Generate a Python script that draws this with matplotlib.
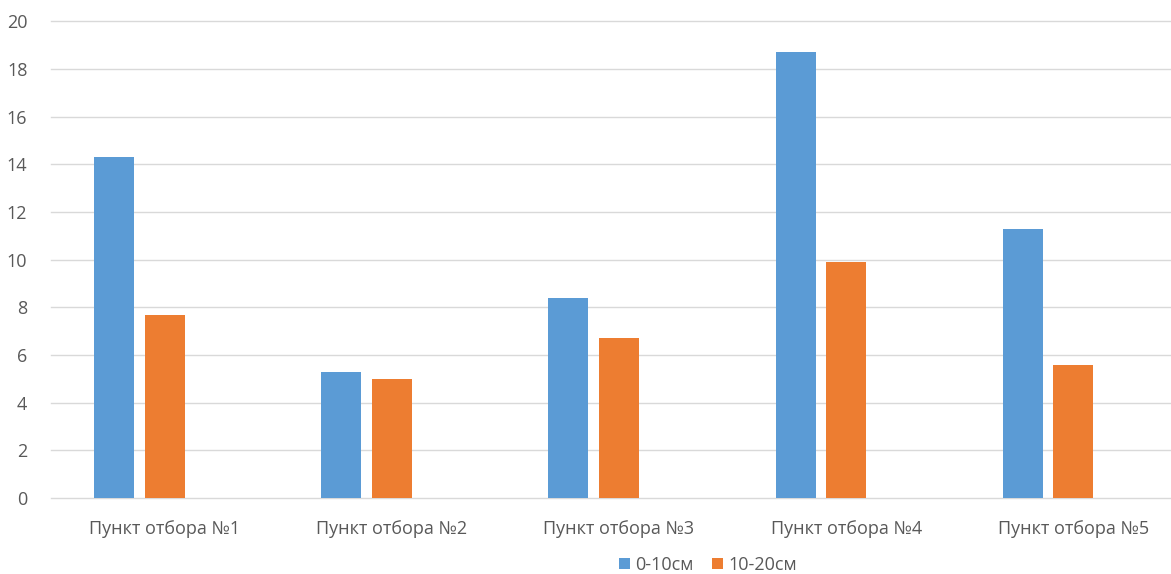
import numpy as np
import matplotlib.pyplot as plt

plt.rcParams['font.family'] = ['Open Sans', 'DejaVu Sans']

points = ['Пункт отбора №1', 'Пункт отбора №2', 'Пункт отбора №3',
          'Пункт отбора №4', 'Пункт отбора №5']
depth_0_10 = [14.3, 5.3, 8.4, 18.7, 11.3]
depth_10_20 = [7.7, 5.0, 6.7, 9.9, 5.6]
series_names = ['0-10см', '10-20см']

blue = '#5B9BD5'
orange = '#ED7D31'
text_col = '#595959'

fig = plt.figure(figsize=(11.71, 5.74), dpi=100)
ax = fig.add_axes([51 / 1171, 1 - 498 / 574, 1136 / 1171, 476.5 / 574])

x = np.arange(len(points))
w = 0.176
step = 0.223
ax.bar(x - step, depth_0_10, width=w, color=blue, label=series_names[0], zorder=3)
ax.bar(x, depth_10_20, width=w, color=orange, label=series_names[1], zorder=3)

ax.set_xlim(-0.5, 4.5)
ax.set_ylim(0, 20)
ax.set_yticks(np.arange(0, 21, 2))
ax.set_xticks(x)
ax.set_xticklabels(points)
ax.yaxis.grid(True, color='#D9D9D9', linewidth=1)
for gl in ax.get_ygridlines():
    gl.set_clip_on(False)
ax.set_axisbelow(True)
for s in ax.spines.values():
    s.set_visible(False)
ax.tick_params(axis='both', length=0, colors=text_col, labelsize=13)
ax.tick_params(axis='y', pad=17)
ax.tick_params(axis='x', pad=16)

fig.legend(loc='center', bbox_to_anchor=(708 / 1171, 1 - 565 / 574), ncol=2,
           frameon=False, fontsize=13, labelcolor=text_col,
           handlelength=0.6, handleheight=0.6, handletextpad=0.3, columnspacing=1.0)

fig.savefig('out.png', dpi=100)
